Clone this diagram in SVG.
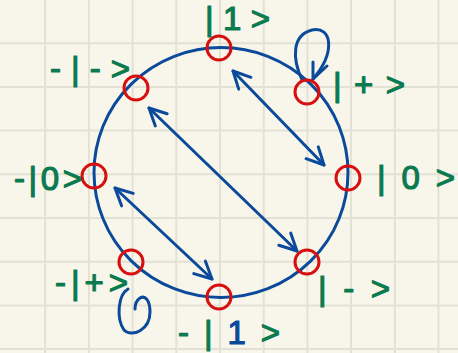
<svg xmlns="http://www.w3.org/2000/svg" width="458" height="353" viewBox="0 0 458 353">
<style>
.grid{stroke:#e3e0d4;stroke-width:2;fill:none}
.ring{stroke:#0b4a9b;stroke-width:3;fill:none}
.node{stroke:#d80f0f;stroke-width:3;fill:none}
.lbl{font-family:"Liberation Sans",Arial,sans-serif;font-size:33px;fill:#0b7a50;stroke:#0b7a50;stroke-width:1.2;stroke-linejoin:round}
.edge{stroke:#0b4a9b;stroke-width:3;fill:none;stroke-linecap:round;stroke-linejoin:round}
</style>
<defs>
<marker id="ah" viewBox="-22 -12 26 24" markerWidth="26" markerHeight="24" refX="0" refY="0" markerUnits="userSpaceOnUse" orient="auto-start-reverse">
<path d="M-17,-8.5 L0,0 L-17,8.5" fill="none" stroke="#0b4a9b" stroke-width="3" stroke-linecap="round" stroke-linejoin="round"/>
</marker>
</defs>
<rect width="458" height="353" fill="#f8f6ea"/>
<g id="grid" class="grid">
<path d="M45.2,0V353M88.9,0V353M132.6,0V353M176.3,0V353M220,0V353M263.7,0V353M307.4,0V353M351,0V353M394.8,0V353M438.5,0V353"/>
<path d="M0,43.2H458M0,86.9H458M0,130.6H458M0,174.3H458M0,218H458M0,261.7H458M0,305.4H458M0,349.1H458"/>
</g>
<g id="ring"><ellipse class="ring" cx="221" cy="172.5" rx="127" ry="125"/></g>
<g id="connectors" class="edge">
<path d="M233,71 L324,165" marker-start="url(#ah)" marker-end="url(#ah)"/>
<path d="M149,108 L297,251" marker-start="url(#ah)" marker-end="url(#ah)"/>
<path d="M115,188 L212,279" marker-start="url(#ah)" marker-end="url(#ah)"/>
<path d="M302,80 C292,58 292,35 312,30 C332,26 336,52 313,79"/>
<path d="M313,62 L313,79 L327,66"/>
<path d="M128,289 C118,295 116,318 124,330 C132,338 150,330 150,312 C150,300 145,295 140,298 C137,300 135,303 135,309"/>
</g>
<g id="n-1"><circle class="node" cx="219" cy="48" r="12"/><text class="lbl" x="205" y="30" textLength="65" lengthAdjust="spacing">|1&gt;</text></g>
<g id="n-minus"><circle class="node" cx="136" cy="88" r="12"/><text class="lbl" x="50" y="80" textLength="80" lengthAdjust="spacing">-|-&gt;</text></g>
<g id="n-plus"><circle class="node" cx="307" cy="92" r="12"/><text class="lbl" x="333" y="96" textLength="72" lengthAdjust="spacing">|+&gt;</text></g>
<g id="n-neg0"><circle class="node" cx="94" cy="176" r="12"/><text class="lbl" x="14" y="190" textLength="68" lengthAdjust="spacing">-|0&gt;</text></g>
<g id="n-0"><circle class="node" cx="348" cy="178" r="12"/><text class="lbl" x="377" y="189" textLength="78" lengthAdjust="spacing">|0&gt;</text></g>
<g id="n-negplus"><circle class="node" cx="131" cy="262" r="12"/><text class="lbl" x="55" y="294" textLength="73" lengthAdjust="spacing">-|+&gt;</text></g>
<g id="n-minus2"><circle class="node" cx="307" cy="262" r="12"/><text class="lbl" x="318" y="300" textLength="72" lengthAdjust="spacing">|-&gt;</text></g>
<g id="n-neg1"><circle class="node" cx="219" cy="297" r="12"/><text class="lbl" x="178" y="344" textLength="102" lengthAdjust="spacing">-|<tspan fill="#0b4a9b" stroke="#0b4a9b">1</tspan>&gt;</text></g>
</svg>
